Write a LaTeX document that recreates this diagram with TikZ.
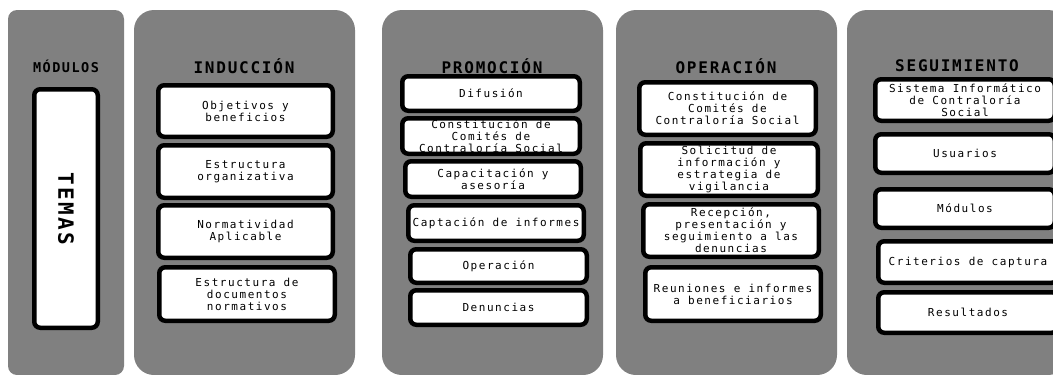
\documentclass[tikz,border=0pt]{standalone}
\usepackage{fontspec}
\newfontfamily\temafont[LetterSpace=14]{DejaVu Sans Mono}
\newfontfamily\titfont[LetterSpace=11]{DejaVu Sans Mono}
\definecolor{panelgray}{HTML}{808080}
\tikzset{
  panel/.style={fill=panelgray, rounded corners=20pt, inner sep=0pt},
  titulo/.style={font=\titfont\bfseries\fontsize{16}{16}\selectfont, inner sep=0pt},
  tema/.style={draw, line width=4.5pt, rounded corners=6pt, fill=white, align=center,
    inner sep=0pt, font=\temafont\fontsize{11}{12}\selectfont},
}
\begin{document}
\begin{tikzpicture}[x=1pt,y=-1pt]
\clip (0,0) rectangle (1053,375);

\node[panel, rounded corners=9pt, minimum width=116pt, minimum height=365pt] (pmod) at (66,192.5) {};
\node[panel, minimum width=221pt, minimum height=365pt] (pind) at (244.5,192.5) {};
\node[panel, minimum width=221pt, minimum height=365pt] (ppro) at (492.5,192.5) {};
\node[panel, minimum width=221pt, minimum height=365pt] (pope) at (726.5,192.5) {};
\node[panel, minimum width=221pt, minimum height=365pt] (pseg) at (957.5,192.5) {};

\node[titulo, font=\titfont\bfseries\fontsize{13.5}{13.5}\selectfont] (tmod) at (66,66) {MÓDULOS};
\node[titulo] (tind) at (244,66) {INDUCCIÓN};
\node[titulo] (tpro) at (492,66) {PROMOCIÓN};
\node[titulo] (tope) at (726,66) {OPERACIÓN};
\node[titulo] (tseg) at (957,66) {SEGUIMIENTO};

\node[tema, minimum width=63.5pt, minimum height=238.5pt] (temas) at (66,208.5) {};
\node[font=\titfont\bfseries\fontsize{21}{21}\selectfont, rotate=-90] (ttemas) at (temas) {TEMAS};

\node[tema, minimum width=174.5pt, minimum height=51.5pt] (i1) at (245.5,111) {Objetivos y\\beneficios};
\node[tema, minimum width=174.5pt, minimum height=52.5pt] (i2) at (245.5,171.5) {Estructura\\organizativa};
\node[tema, minimum width=174.5pt, minimum height=52.5pt] (i3) at (245.5,231.5) {Normatividad\\Aplicable};
\node[tema, minimum width=175.5pt, minimum height=53.5pt] (i4) at (247,294) {Estructura de\\documentos\\normativos};

\node[tema, minimum width=177.5pt, minimum height=34.5pt] (p1) at (491,93.5) {Difusión};
\node[tema, minimum width=177.5pt, minimum height=35.5pt] (p2) at (491,136) {Constitución de\\Comités de\\Contraloría Social};
\node[tema, minimum width=175.5pt, minimum height=35.5pt] (p3) at (493,179) {Capacitación y\\asesoría};
\node[tema, minimum width=175.5pt, minimum height=35.5pt] (p4) at (496,223) {Captación de informes};
\node[tema, minimum width=176.5pt, minimum height=33.5pt] (p5) at (498.5,266) {Operación};
\node[tema, minimum width=176.5pt, minimum height=34.5pt] (p6) at (498.5,307.5) {Denuncias};

\node[tema, minimum width=176.5pt, minimum height=52.5pt] (o1) at (727.5,108.5) {Constitución de\\Comités de\\Contraloría Social};
\node[tema, minimum width=177.5pt, minimum height=52.5pt] (o2) at (729,169.5) {Solicitud de\\información y\\estrategia de\\vigilancia};
\node[tema, minimum width=175.5pt, minimum height=52.5pt] (o3) at (731,230.5) {Recepción,\\presentación y\\seguimiento a las\\denuncias};
\node[tema, minimum width=175.5pt, minimum height=53.5pt] (o4) at (733,294) {Reuniones e informes\\a beneficiarios};

\node[tema, minimum width=179.5pt, minimum height=41.5pt] (s1) at (965,100) {Sistema Informático\\de Contraloría\\Social};
\node[tema, minimum width=179.5pt, minimum height=38.5pt] (s2) at (965,153.5) {Usuarios};
\node[tema, minimum width=179.5pt, minimum height=38.5pt] (s3) at (965,208.5) {Módulos};
\node[tema, minimum width=179.5pt, minimum height=41.5pt] (s4) at (968,262) {Criterios de captura};
\node[tema, minimum width=179.5pt, minimum height=40.5pt] (s5) at (968,312.5) {Resultados};
\end{tikzpicture}
\end{document}
